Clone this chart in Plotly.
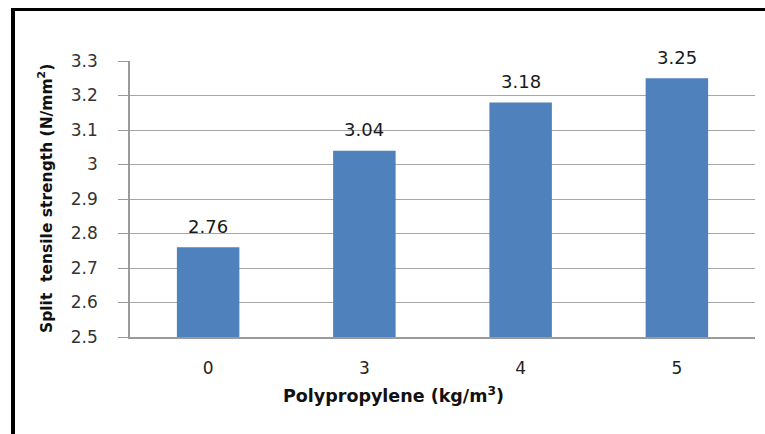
import plotly.graph_objects as go

categories = ["0", "3", "4", "5"]
strength = [2.76, 3.04, 3.18, 3.25]
label_text = ["2.76", "3.04", "3.18", "3.25"]
y_tick_vals = [2.5, 2.6, 2.7, 2.8, 2.9, 3.0, 3.1, 3.2, 3.3]
y_tick_text = ["2.5", "2.6", "2.7", "2.8", "2.9", "3", "3.1", "3.2", "3.3"]

W, H = 765, 434
ml, mr, mt, mb = 130, 10, 61, 97
pw = W - ml - mr
ph = H - mt - mb

def px_x(x):
    return (x - ml) / pw

def px_y(y):
    return (H - mb - y) / ph

FONT = "DejaVu Sans"

fig = go.Figure()
fig.add_trace(go.Bar(
    x=categories, y=strength,
    marker=dict(color="#4f81bd", line=dict(width=0)),
    width=0.4,
    hoverinfo="x+y",
))

annotations = []
for i, (v, t) in enumerate(zip(strength, label_text)):
    annotations.append(dict(
        x=i, y=v, xref="x", yref="y", text=t, showarrow=False,
        yanchor="middle", yshift=21,
        font=dict(family=FONT, size=18, color="#1a1a1a"),
    ))

annotations.append(dict(
    x=px_x(393), y=px_y(395), xref="paper", yref="paper",
    text="Polypropylene (kg/m<sup>3</sup>)", showarrow=False,
    xanchor="center", yanchor="middle",
    font=dict(family=FONT, size=17.5, color="#111111", weight="bold"),
))
annotations.append(dict(
    x=px_x(45), y=px_y(199), xref="paper", yref="paper",
    text="Split  tensile strength (N/mm<sup>2</sup>)", showarrow=False,
    textangle=-90, xanchor="center", yanchor="middle",
    font=dict(family=FONT, size=15.5, color="#111111", weight="bold"),
))

shapes = [
    dict(type="line", xref="paper", yref="paper",
         x0=px_x(13), x1=px_x(13), y0=px_y(8), y1=px_y(440),
         line=dict(color="#000000", width=4)),
    dict(type="line", xref="paper", yref="paper",
         x0=px_x(11), x1=px_x(770), y0=px_y(9.5), y1=px_y(9.5),
         line=dict(color="#000000", width=3)),
]

fig.update_layout(
    width=W, height=H,
    margin=dict(l=ml, r=mr, t=mt, b=mb, pad=0),
    paper_bgcolor="white", plot_bgcolor="white",
    showlegend=False,
    bargap=0.6,
    annotations=annotations,
    shapes=shapes,
    font=dict(family=FONT, size=15, color="#222222"),
)
fig.update_xaxes(
    type="category", range=[-0.5, 3.5],
    showgrid=False, showline=True, linecolor="#9a9a9a", linewidth=1.5,
    ticks="", tickfont=dict(family=FONT, size=17, color="#222222"),
    ticklabelstandoff=15,
)
fig.update_yaxes(
    range=[2.5, 3.3], tickvals=y_tick_vals, ticktext=y_tick_text,
    showgrid=True, gridcolor="#a6a6a6", gridwidth=1,
    showline=True, linecolor="#9a9a9a", linewidth=1.5,
    ticks="outside", ticklen=10, tickcolor="#9a9a9a", tickwidth=1,
    tickfont=dict(family=FONT, size=17, color="#333333"),
    ticklabelstandoff=17, zeroline=False,
)

fig.write_html("out.html", config={"displayModeBar": False},
               post_script="document.body.style.margin='0';")
